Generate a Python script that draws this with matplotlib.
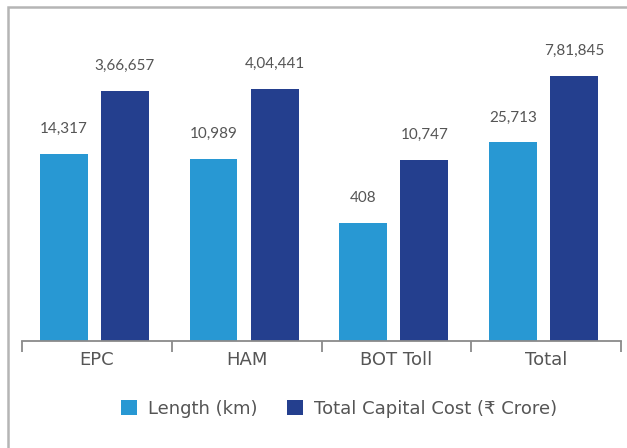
#!/usr/bin/env python3
"""Length vs total capital cost by project mode - grouped bars on a log scale."""

import matplotlib
matplotlib.use("Agg")
import matplotlib.pyplot as plt
import matplotlib.patches as mpatches
import numpy as np

plt.rcParams["font.family"] = ["DejaVu Sans"]

# ── data ───────────────────────────────────────────────────────────
categories = ["EPC", "HAM", "BOT Toll", "Total"]
length_km = [14317, 10989, 408, 25713]
cost_crore = [366657, 404441, 10747, 781845]
length_labels = ["14,317", "10,989", "408", "25,713"]
cost_labels = ["3,66,657", "4,04,441", "10,747", "7,81,845"]

LIGHT = "#2898d3"
DARK = "#243f8e"
TEXT = "#555555"
AXIS = "#8a8a8a"

W, H = 627, 448
fig = plt.figure(figsize=(W / 100, H / 100), dpi=100)
ax = fig.add_axes([22 / W, (H - 341) / H, (621 - 22) / W, (341 - 7) / H])

x = np.arange(len(categories))
bw, off, shift = 0.32, 0.204, -0.017
b1 = ax.bar(x + shift - off, length_km, bw, color=LIGHT, label="Length (km)")
b2 = ax.bar(x + shift + off, cost_crore, bw, color=DARK, label="Total Capital Cost (₹ Crore)")

ax.set_yscale("log")
ax.set_ylim(1, 10 ** 7.42)
ax.set_xlim(-0.5, len(categories) - 0.5)

for bars, labels in ((b1, length_labels), (b2, cost_labels)):
    for rect, lab in zip(bars, labels):
        ax.annotate(lab, (rect.get_x() + rect.get_width() / 2, rect.get_height()),
                    xytext=(0, 13), textcoords="offset points",
                    ha="center", va="bottom", fontsize=11, color=TEXT,
                    family=["Lato", "DejaVu Sans"])

# axis styling
for s in ("top", "left", "right"):
    ax.spines[s].set_visible(False)
ax.spines["bottom"].set_color(AXIS)
ax.spines["bottom"].set_linewidth(1.3)
ax.set_yticks([])
ax.minorticks_off()
ax.set_xticks(x)
ax.set_xticklabels(categories, fontsize=13, color=TEXT)
ax.set_xticks(np.arange(-0.5, len(categories)), minor=True)
ax.tick_params(axis="x", which="major", length=0, pad=7)
ax.tick_params(axis="x", which="minor", length=8, width=1.3, color=AXIS)
ax.tick_params(axis="y", which="both", left=False, labelleft=False)

# legend
fig.legend(handles=[b1, b2], loc="center", bbox_to_anchor=(339 / W, 1 - 409 / H),
           ncol=2, frameon=False, fontsize=13, labelcolor=TEXT,
           handlelength=0.9, handleheight=0.9, handletextpad=0.6, columnspacing=1.6)

# outer frame (open on right/bottom, cut by image edge)
fig.patches.append(mpatches.Rectangle((7.5 / W, -0.1), 1.2, 1 - 7.5 / H + 0.1,
                                      transform=fig.transFigure, fill=False,
                                      edgecolor="#b5b5b5", linewidth=1.8))

fig.savefig("out.png", dpi=100)
